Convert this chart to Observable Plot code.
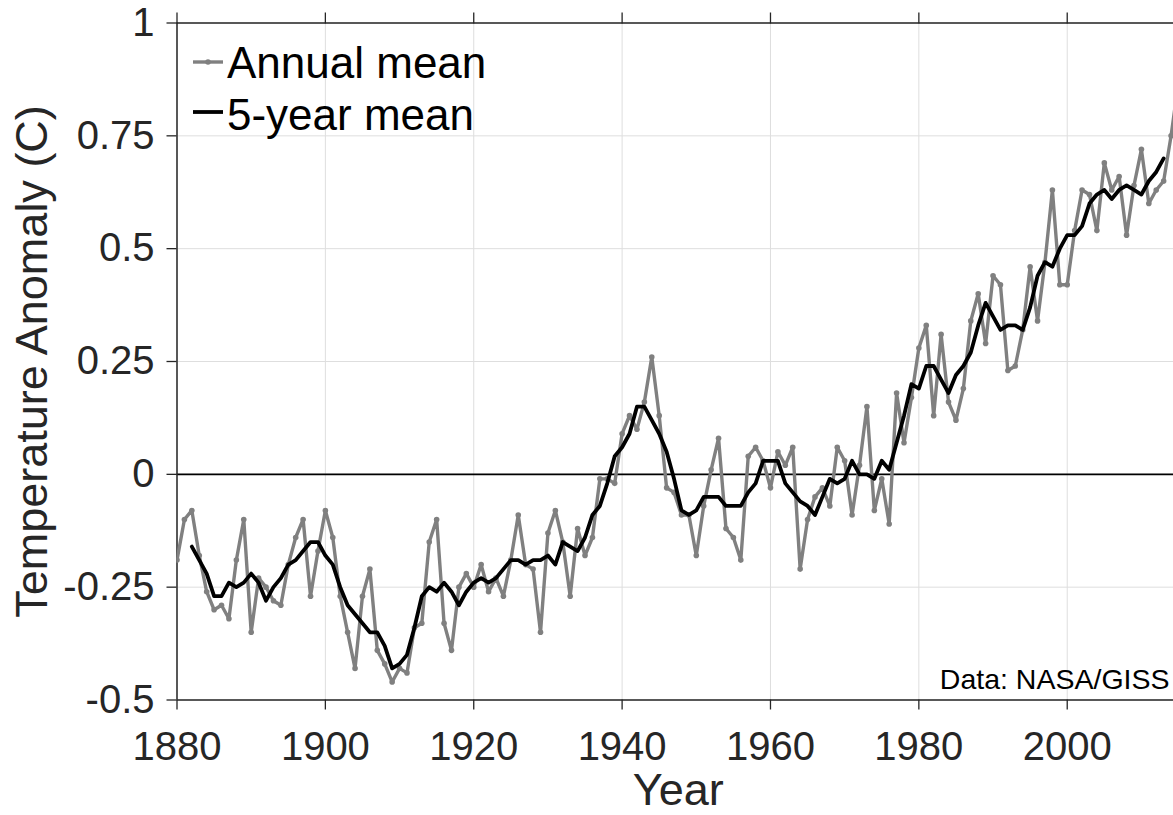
<!DOCTYPE html>
<html>
<head>
<meta charset="utf-8">
<script src="https://cdn.jsdelivr.net/npm/d3@7"></script>
<script src="https://cdn.jsdelivr.net/npm/@observablehq/plot@0.6"></script>
<style>
  html, body { margin: 0; padding: 0; background: #fff; overflow: hidden; }
  #chart { width: 1173px; height: 815px; }
</style>
</head>
<body>
<div id="chart"></div>
<script>
// ---- Data ----
const annualYears = [
  1880,1881,1882,1883,1884,1885,1886,1887,1888,1889,
  1890,1891,1892,1893,1894,1895,1896,1897,1898,1899,
  1900,1901,1902,1903,1904,1905,1906,1907,1908,1909,
  1910,1911,1912,1913,1914,1915,1916,1917,1918,1919,
  1920,1921,1922,1923,1924,1925,1926,1927,1928,1929,
  1930,1931,1932,1933,1934,1935,1936,1937,1938,1939,
  1940,1941,1942,1943,1944,1945,1946,1947,1948,1949,
  1950,1951,1952,1953,1954,1955,1956,1957,1958,1959,
  1960,1961,1962,1963,1964,1965,1966,1967,1968,1969,
  1970,1971,1972,1973,1974,1975,1976,1977,1978,1979,
  1980,1981,1982,1983,1984,1985,1986,1987,1988,1989,
  1990,1991,1992,1993,1994,1995,1996,1997,1998,1999,
  2000,2001,2002,2003,2004,2005,2006,2007,2008,2009,
  2010,2011,2012,2013,2014,2015
];
const annualMean = [
  -0.19,-0.10,-0.08,-0.18,-0.26,-0.30,-0.29,-0.32,-0.19,-0.10,
  -0.35,-0.23,-0.25,-0.28,-0.29,-0.20,-0.14,-0.10,-0.27,-0.17,
  -0.08,-0.14,-0.27,-0.35,-0.43,-0.27,-0.21,-0.39,-0.42,-0.46,
  -0.43,-0.44,-0.34,-0.33,-0.15,-0.10,-0.33,-0.39,-0.25,-0.22,
  -0.25,-0.20,-0.26,-0.23,-0.27,-0.19,-0.09,-0.20,-0.21,-0.35,
  -0.13,-0.08,-0.15,-0.27,-0.12,-0.18,-0.14,-0.01,-0.01,-0.02,
   0.09, 0.13, 0.10, 0.16, 0.26, 0.13,-0.03,-0.04,-0.09,-0.09,
  -0.18,-0.07, 0.01, 0.08,-0.12,-0.14,-0.19, 0.04, 0.06, 0.03,
  -0.03, 0.05, 0.02, 0.06,-0.21,-0.10,-0.05,-0.03,-0.07, 0.06,
   0.03,-0.09, 0.02, 0.15,-0.08,-0.01,-0.11, 0.18, 0.07, 0.17,
   0.28, 0.33, 0.13, 0.31, 0.16, 0.12, 0.19, 0.34, 0.40, 0.29,
   0.44, 0.42, 0.23, 0.24, 0.32, 0.46, 0.34, 0.47, 0.63, 0.42,
   0.42, 0.54, 0.63, 0.62, 0.54, 0.69, 0.63, 0.66, 0.53, 0.64,
   0.72, 0.60, 0.63, 0.65, 0.75, 0.87
];
const fiveYearYears = [
  1882,1883,1884,1885,1886,1887,1888,1889,
  1890,1891,1892,1893,1894,1895,1896,1897,1898,1899,
  1900,1901,1902,1903,1904,1905,1906,1907,1908,1909,
  1910,1911,1912,1913,1914,1915,1916,1917,1918,1919,
  1920,1921,1922,1923,1924,1925,1926,1927,1928,1929,
  1930,1931,1932,1933,1934,1935,1936,1937,1938,1939,
  1940,1941,1942,1943,1944,1945,1946,1947,1948,1949,
  1950,1951,1952,1953,1954,1955,1956,1957,1958,1959,
  1960,1961,1962,1963,1964,1965,1966,1967,1968,1969,
  1970,1971,1972,1973,1974,1975,1976,1977,1978,1979,
  1980,1981,1982,1983,1984,1985,1986,1987,1988,1989,
  1990,1991,1992,1993,1994,1995,1996,1997,1998,1999,
  2000,2001,2002,2003,2004,2005,2006,2007,2008,2009,
  2010,2011,2012,2013
];
const fiveYearMean = [
  -0.16,-0.19,-0.22,-0.27,-0.27,-0.24,-0.25,-0.24,
  -0.22,-0.24,-0.28,-0.25,-0.23,-0.20,-0.19,-0.17,-0.15,-0.15,
  -0.18,-0.20,-0.25,-0.29,-0.31,-0.33,-0.35,-0.35,-0.38,-0.43,
  -0.42,-0.40,-0.34,-0.27,-0.25,-0.26,-0.24,-0.26,-0.29,-0.26,
  -0.24,-0.23,-0.24,-0.23,-0.21,-0.19,-0.19,-0.20,-0.19,-0.19,
  -0.18,-0.20,-0.15,-0.16,-0.17,-0.14,-0.09,-0.07,-0.02, 0.04,
   0.06, 0.09, 0.15, 0.15, 0.12, 0.09, 0.05,-0.01,-0.08,-0.09,
  -0.08,-0.05,-0.05,-0.05,-0.07,-0.07,-0.07,-0.04,-0.02, 0.03,
   0.03, 0.03,-0.02,-0.04,-0.06,-0.07,-0.09,-0.05,-0.01,-0.02,
  -0.01, 0.03, 0.00, 0.00,-0.01, 0.03, 0.01, 0.07, 0.13, 0.20,
   0.19, 0.24, 0.24, 0.21, 0.18, 0.22, 0.24, 0.27, 0.33, 0.38,
   0.35, 0.32, 0.33, 0.33, 0.32, 0.37, 0.44, 0.47, 0.46, 0.50,
   0.53, 0.53, 0.55, 0.60, 0.62, 0.63, 0.61, 0.63, 0.64, 0.63,
   0.62, 0.65, 0.67, 0.70
];
const xTicks = [1880, 1900, 1920, 1940, 1960, 1980, 2000];
const yTicks = [-0.5, -0.25, 0, 0.25, 0.5, 0.75, 1];
const seriesNames = ["Annual mean", "5-year mean"];
const xLabel = "Year";
const yLabel = "Temperature Anomaly (C)";
const sourceNote = "Data: NASA/GISS";

// ---- Tables built from the arrays ----
const annual = annualYears.map((year, i) => ({year, value: annualMean[i]}));
const smooth = fiveYearYears.map((year, i) => ({year, value: fiveYearMean[i]}));

const FONT = "Arial, 'Liberation Sans', Helvetica, sans-serif";
const AXIS = "#262626";
const GRID = "#dedede";

const plot = Plot.plot({
  width: 1173,
  height: 815,
  marginLeft: 176.5,
  marginRight: 0,
  marginTop: 22.5,
  marginBottom: 115.5,
  style: {fontFamily: FONT, background: "#fff", overflow: "hidden"},
  x: {domain: [1880, 2015], range: [176.5, 1178]},
  y: {domain: [-0.5, 1]},
  marks: [
    Plot.gridX(xTicks, {stroke: GRID, strokeOpacity: 1, strokeWidth: 1}),
    Plot.gridY(yTicks, {stroke: GRID, strokeOpacity: 1, strokeWidth: 1}),
    Plot.ruleY([0], {stroke: "#000", strokeWidth: 1.6}),
    Plot.axisY(yTicks, {
      anchor: "left", tickSize: 10, tickPadding: 12.5, tickFormat: d => String(d),
      fontSize: 40, color: AXIS, strokeWidth: 1.3, label: null
    }),
    Plot.axisX(xTicks, {
      anchor: "bottom", tickSize: 10, tickPadding: 22, tickFormat: d => String(d),
      fontSize: 40, color: AXIS, strokeWidth: 1.3, label: null
    }),
    Plot.axisX(xTicks, {
      anchor: "top", tickSize: 11, tickFormat: () => "", color: AXIS, strokeWidth: 1.3, label: null
    }),
    Plot.ruleX([1880], {stroke: AXIS, strokeWidth: 1.5}),
    Plot.ruleY([-0.5, 1], {stroke: AXIS, strokeWidth: 1.5}),
    Plot.line(annual, {x: "year", y: "value", stroke: "#808080", strokeWidth: 3.4, clip: true}),
    Plot.dot(annual, {x: "year", y: "value", r: 2.8, fill: "#808080", stroke: null, clip: true}),
    Plot.line(smooth, {x: "year", y: "value", stroke: "#000", strokeWidth: 3.8, clip: true}),
    Plot.text([xLabel], {
      frameAnchor: "bottom", textAnchor: "middle", dx: 3, dy: 91, lineAnchor: "middle",
      fontSize: 45, fill: AXIS
    }),
    Plot.text([yLabel], {
      frameAnchor: "left", textAnchor: "middle", rotate: -90, dx: -144, lineAnchor: "middle",
      fontSize: 45, fill: AXIS
    }),
    Plot.text([sourceNote], {
      frameAnchor: "bottom-right", textAnchor: "end", lineAnchor: "middle",
      dx: -4, dy: -20.6, fontSize: 28.5, fill: "#000"
    })
  ]
});

document.getElementById("chart").appendChild(plot);

// ---- Legend (top-left, inside the axes, no box) ----
const svg = d3.select(plot);
const legend = svg.append("g").attr("font-family", FONT).attr("text-anchor", "start");
const legendRows = [
  {name: seriesNames[0], stroke: "#808080", width: 3.4, dot: true, ly: 62, ty: 78},
  {name: seriesNames[1], stroke: "#000", width: 3.8, dot: false, ly: 112, ty: 130}
];
for (const r of legendRows) {
  legend.append("line")
    .attr("x1", 193).attr("x2", 223).attr("y1", r.ly).attr("y2", r.ly)
    .attr("stroke", r.stroke).attr("stroke-width", r.width);
  if (r.dot) {
    legend.append("circle").attr("cx", 208).attr("cy", r.ly).attr("r", 2.8).attr("fill", r.stroke);
  }
  legend.append("text")
    .attr("x", 227).attr("y", r.ty)
    .attr("text-anchor", "start")
    .attr("font-size", 44).attr("fill", "#000")
    .text(r.name);
}
</script>
</body>
</html>
